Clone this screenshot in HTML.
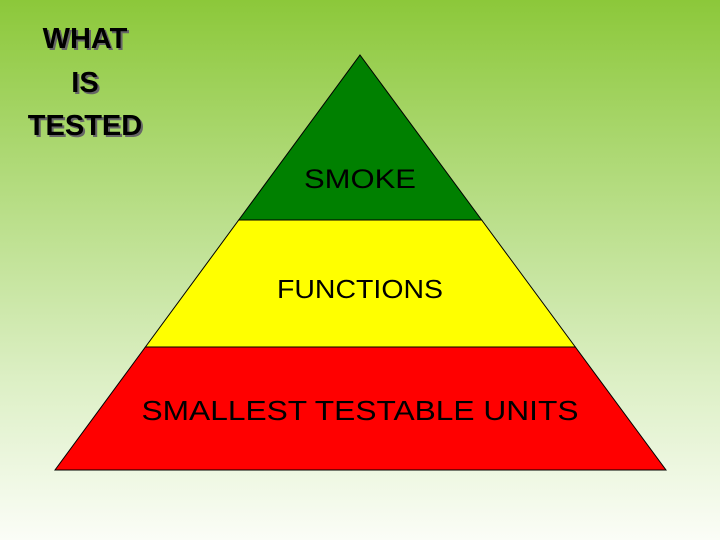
<!DOCTYPE html>
<html><head><meta charset="utf-8"><style>
html,body{margin:0;padding:0;width:720px;height:540px;overflow:hidden}
body{background:linear-gradient(to bottom,#8cc83a 0%,#b4dc80 35%,#dcefc4 70%,#fbfdf7 100%)}
svg{position:absolute;left:0;top:0}
</style></head><body>
<svg width="720" height="540">
<g font-family="'Liberation Sans',sans-serif" font-weight="bold" font-size="29" text-anchor="middle">
<g fill="#666" transform="translate(2,2)">
<text x="85" y="48">WHAT</text><text x="85" y="92">IS</text><text x="85" y="135">TESTED</text></g>
<text x="85" y="48" fill="#000">WHAT</text><text x="85" y="92" fill="#000">IS</text><text x="85" y="135" fill="#000">TESTED</text>
</g>
<g id="pyr"></g>
</svg>
<script>
const labels=["SMOKE","FUNCTIONS","SMALLEST TESTABLE UNITS"];
const colors=["#008000","#ffff00","#ff0000"];
const bounds=[55,220,347,470];
const apex={x:360,y:55},bl={x:55,y:470},br={x:666,y:470};
const g=document.getElementById('pyr');
const ns="http://www.w3.org/2000/svg";
function lx(y){return apex.x+(bl.x-apex.x)*(y-apex.y)/(bl.y-apex.y);}
function rx(y){return apex.x+(br.x-apex.x)*(y-apex.y)/(br.y-apex.y);}
const sizes=[27,26,28],widths=[112,166,437];
for(let i=0;i<labels.length;i++){
 const y0=bounds[i],y1=bounds[i+1];
 const p=document.createElementNS(ns,'polygon');
 p.setAttribute('points',`${lx(y0)},${y0} ${rx(y0)},${y0} ${rx(y1)},${y1} ${lx(y1)},${y1}`);
 p.setAttribute('fill',colors[i]);p.setAttribute('stroke','#000');p.setAttribute('stroke-width','1');
 
 
 g.appendChild(p);
 const t=document.createElementNS(ns,'text');
 t.setAttribute('x',360);t.setAttribute('y',i==0?188:(i==1?298:420));
 t.setAttribute('text-anchor','middle');t.setAttribute('font-size',sizes[i]);
 t.setAttribute('font-family',"'Liberation Sans',sans-serif");t.setAttribute('fill','#000');
 t.setAttribute('textLength',widths[i]);t.setAttribute('lengthAdjust','spacingAndGlyphs');
 t.textContent=labels[i];
 
 
 g.appendChild(t);
}
</script>
</body></html>
